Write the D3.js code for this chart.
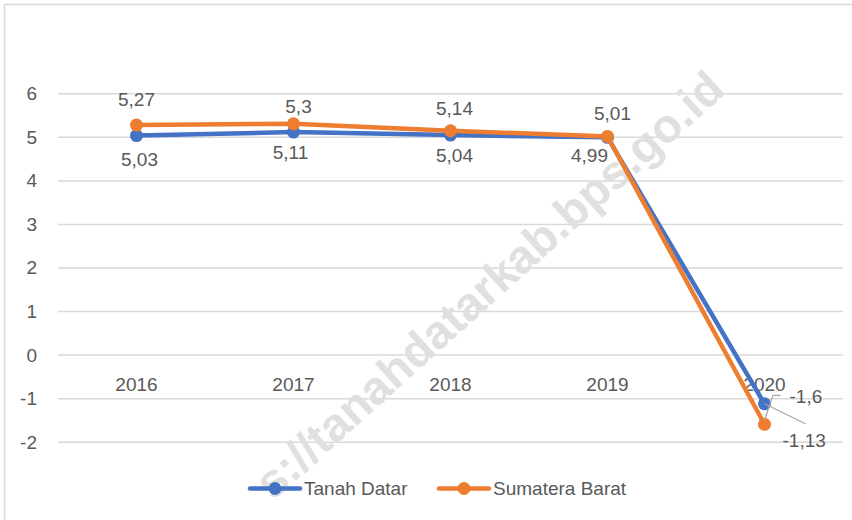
<!DOCTYPE html>
<html>
<head>
<meta charset="utf-8">
<script src="https://cdn.jsdelivr.net/npm/d3@7"></script>
<style>
  html, body { margin: 0; padding: 0; background: #fff; }
  svg { display: block; font-family: "Liberation Sans", Arial, sans-serif; }
</style>
</head>
<body>
<svg id="chart" width="852" height="520"></svg>
<script>
// Economic growth (%) per year
const years = ["2016", "2017", "2018", "2019", "2020"];
const tanahDatar = [5.03, 5.11, 5.04, 4.99, -1.13];
const sumateraBarat = [5.27, 5.3, 5.14, 5.01, -1.6];
const seriesNames = ["Tanah Datar", "Sumatera Barat"];
const yTicks = [-2, -1, 0, 1, 2, 3, 4, 5, 6];

const colors = { "Tanah Datar": "#4472C4", "Sumatera Barat": "#ED7D31" };
const textColor = "#595959";
const gridColor = "#d9d9d9";

// label offsets (dx, baseline dy) relative to each point
const labelOffsets = {
  "Tanah Datar":    [[3, 30], [-3, 27], [4, 27], [-18, 25], [18, 43]],
  "Sumatera Barat": [[0, -19], [5, -11], [4, -16], [5, -16], [25, -21]]
};

const svg = d3.select("#chart");
const W = 852, H = 520;

const x = d3.scalePoint().domain(years).range([58, 843]).padding(0.5);
const y = d3.scaleLinear().domain([-2, 6]).range([441.7, 93.3]);

// chart frame
svg.append("rect")
  .attr("x", 4.5).attr("y", 4.5)
  .attr("width", W + 10).attr("height", H + 10)
  .attr("fill", "none").attr("stroke", gridColor).attr("stroke-width", 1.5);

// gridlines
const yAxis = d3.axisLeft(y).tickValues(yTicks).tickSize(-(843 - 58)).tickPadding(21)
  .tickFormat(d => d3.format("d")(d).replace("−", "-"));
const gAxis = svg.append("g").attr("transform", "translate(58,0)").call(yAxis);
gAxis.select(".domain").remove();
gAxis.selectAll(".tick line").attr("stroke", gridColor).attr("stroke-width", 1.5);
gAxis.selectAll(".tick text")
  .attr("fill", textColor).attr("font-size", 19).attr("dy", "0.34em");

// watermark
svg.append("text")
  .attr("transform", "translate(716,80) rotate(-42)")
  .attr("text-anchor", "end")
  .attr("dominant-baseline", "central")
  .attr("font-size", 47)
  .attr("font-weight", "bold")
  .attr("fill", "#e0e0e0")
  .text("s://tanahdatarkab.bps.go.id");

// category labels sit just below the zero line
svg.append("g").selectAll("text")
  .data(years).join("text")
  .attr("x", d => x(d))
  .attr("y", y(0) + 36)
  .attr("text-anchor", "middle")
  .attr("fill", textColor).attr("font-size", 19)
  .text(d => d);

const series = [
  { name: "Tanah Datar", values: tanahDatar },
  { name: "Sumatera Barat", values: sumateraBarat }
];

const line = d3.line().x((d, i) => x(years[i])).y(d => y(d));

series.forEach(s => {
  const g = svg.append("g");
  g.append("path")
    .attr("d", line(s.values))
    .attr("fill", "none")
    .attr("stroke", colors[s.name])
    .attr("stroke-width", 4.5)
    .attr("stroke-linejoin", "round")
    .attr("stroke-linecap", "round");
  g.selectAll("circle").data(s.values).join("circle")
    .attr("cx", (d, i) => x(years[i]))
    .attr("cy", d => y(d))
    .attr("r", 6.5)
    .attr("fill", colors[s.name]);
});

const fmt = v => String(v).replace(".", ",");

// leader lines for the 2020 labels
const last = years.length - 1;
const lx = x(years[last]);
const tdY = y(tanahDatar[last]), sbY = y(sumateraBarat[last]);
const leader = svg.append("g").attr("stroke", "#a6a6a6").attr("stroke-width", 1.2).attr("fill", "none");
const sbOff = labelOffsets["Sumatera Barat"][last];
const tdOff = labelOffsets["Tanah Datar"][last];
leader.append("polyline")
  .attr("points", [[lx + 16, sbY + sbOff[1] - 8], [lx + 8.5, sbY + sbOff[1] - 8], [lx, sbY - 4]].join(" "));
leader.append("line")
  .attr("x1", lx).attr("y1", tdY)
  .attr("x2", lx + 41).attr("y2", tdY + tdOff[1] - 23);

// data labels
series.forEach(s => {
  svg.append("g").selectAll("text")
    .data(s.values).join("text")
    .attr("x", (d, i) => x(years[i]) + labelOffsets[s.name][i][0])
    .attr("y", (d, i) => y(d) + labelOffsets[s.name][i][1])
    .attr("text-anchor", (d, i) => i === last ? "start" : "middle")
    .attr("fill", textColor).attr("font-size", 19)
    .text(d => fmt(d));
});

// legend
const legendItems = [
  { name: seriesNames[0], x: 250 },
  { name: seriesNames[1], x: 439 }
];
const lg = svg.append("g");
legendItems.forEach(it => {
  const g = lg.append("g").attr("transform", `translate(${it.x},488.5)`);
  g.append("line").attr("x1", 0).attr("x2", 50).attr("y1", 0).attr("y2", 0)
    .attr("stroke", colors[it.name]).attr("stroke-width", 4.5).attr("stroke-linecap", "round");
  g.append("circle").attr("cx", 25).attr("cy", 0).attr("r", 6.5).attr("fill", colors[it.name]);
  g.append("text").attr("x", 54).attr("y", 6.5)
    .attr("fill", textColor).attr("font-size", 19).text(it.name);
});
</script>
</body>
</html>
